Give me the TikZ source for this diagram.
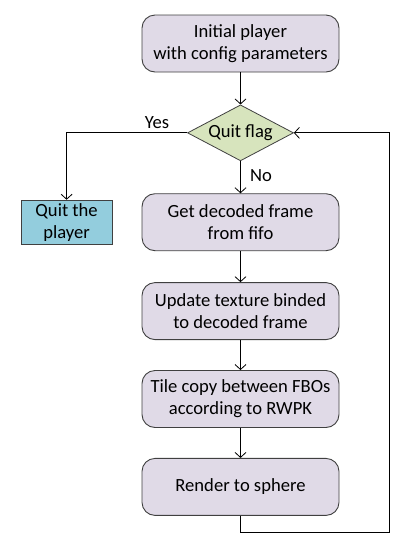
\documentclass[tikz,border=0pt]{standalone}
\usepackage{fontspec}
\setmainfont{Carlito}
\usepackage{xcolor}
\usepackage{tikz}
\usetikzlibrary{arrows.meta,positioning,shapes.geometric}
\definecolor{fclilac}{RGB}{224,218,231}
\definecolor{fcgreen}{RGB}{215,228,189}
\definecolor{fccyan}{RGB}{147,205,221}
\definecolor{fcedge}{RGB}{64,64,64}

\begin{document}
\begin{tikzpicture}[x=1pt, y=1pt,
  node distance=31pt and 29pt,
  font=\fontsize{18.6}{22}\selectfont,
  procbox/.style={draw=fcedge, line width=0.9pt, fill=fclilac, rounded corners=13pt,
                  align=center, minimum width=197pt, minimum height=57pt, inner sep=2pt},
  endbox/.style={draw=fcedge, line width=0.9pt, fill=fccyan, align=center,
                 minimum width=91pt, minimum height=44pt, inner sep=1pt},
  testbox/.style={diamond, aspect=1.9, draw=fcedge, line width=0.8pt, fill=fcgreen,
                  minimum width=106pt, minimum height=56pt, inner sep=-3pt},
  arr/.style={-{Straight Barb[length=5pt, width=11pt]}, line width=0.8pt, black}
]
\useasboundingbox (0,0) rectangle (413,-547);
\node[procbox] (init) at (240.5,-43.5) {Initial player\\ with config parameters};
\node[testbox, below=32pt of init] (flag) {Quit flag};
\node[procbox, below=32pt of flag] (fetch) {Get decoded frame\\ from fifo};
\node[procbox, below=of fetch] (texture) {Update texture binded\\ to decoded frame};
\node[procbox, below=30pt of texture] (tilecopy) {Tile copy between FBOs\\ according to RWPK};
\node[procbox, below=30pt of tilecopy] (render) {Render to sphere};
\node[endbox, left=of fetch] (quit) {Quit the\\ player};
\draw[arr] (init) -- (flag);
\draw[arr] (flag.south) -- node[pos=0.45, right, xshift=6pt] {No} (fetch.north);
\draw[arr] (flag.west) -| node[pos=0.125, above] {Yes} (quit.north);
\draw[arr] (fetch) -- (texture);
\draw[arr] (texture) -- (tilecopy);
\draw[arr] (tilecopy) -- (render);
\draw[arr] (render.south) -- ++(0,-17) -| ([xshift=95pt]flag.east) -- (flag.east);
\end{tikzpicture}
\end{document}
